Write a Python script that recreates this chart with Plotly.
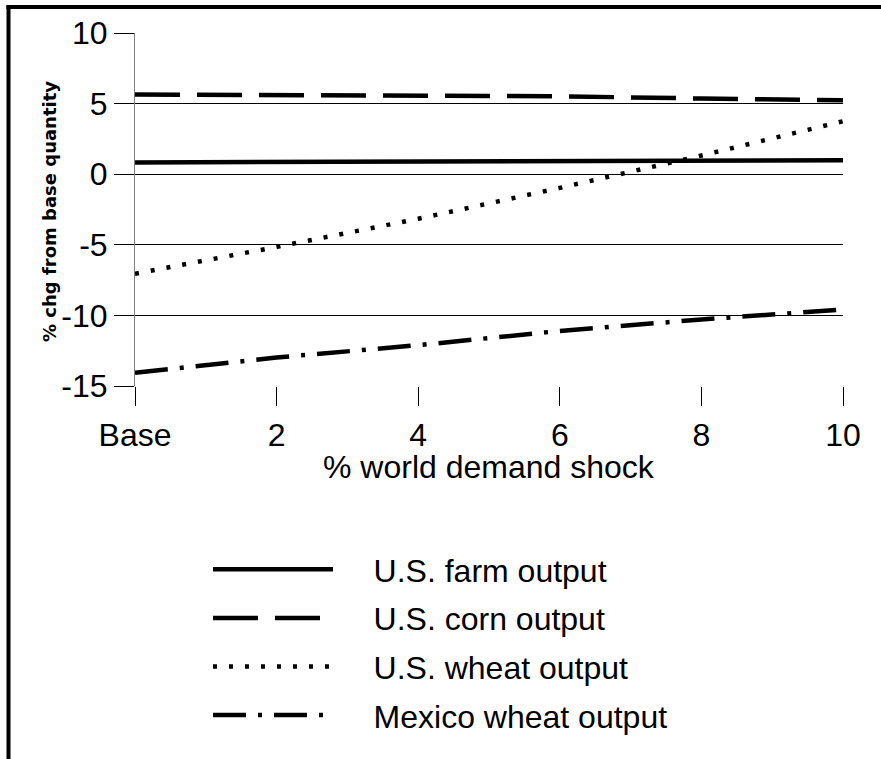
import plotly.graph_objects as go

# ---- data ----
shock = [0, 2, 4, 6, 8, 10]
tick_labels = ["Base", "2", "4", "6", "8", "10"]
y_ticks = [-15, -10, -5, 0, 5, 10]
y_tick_labels = ["-15", "-10", "-5", "0", "5", "10"]
us_farm = [0.83, 0.87, 0.92, 0.92, 0.94, 0.99]
us_corn = [5.64, 5.62, 5.55, 5.52, 5.36, 5.24]
us_wheat = [-7.05, -5.15, -3.16, -0.97, 1.32, 3.75]
mex_wheat = [-14.07, -12.98, -12.11, -11.10, -10.29, -9.58]

W, H = 881, 759
L, R, T, B = 135, 843, 33, 386  # plot area in px

FONT = "Liberation Sans, Arial, sans-serif"
FS = 32
GAP = "\u00a0\u00a0\u00a0\u00a0"

fig = go.Figure()
series = [
    ("U.S. farm output", us_farm, "solid"),
    ("U.S. corn output", us_corn, "45px,17px"),
    ("U.S. wheat output", us_wheat, "4px,12px"),
    ("Mexico wheat output", mex_wheat, "33px,12px,4px,12px"),
]
for i, (name, ys, dash) in enumerate(series):
    fig.add_trace(go.Scatter(
        x=shock, y=ys, name=GAP + name, mode="lines",
        line=dict(color="black", width=4.5, dash=dash),
        legendgroup=f"g{i}",
    ))

def px_x(p):
    return (p - L) / (R - L)

def px_y(p):
    return (B - p) / (B - T)

fig.update_layout(
    width=W, height=H,
    margin=dict(l=L, r=W - R, t=T, b=H - B, autoexpand=False),
    paper_bgcolor="white", plot_bgcolor="white",
    font=dict(family=FONT, size=FS, color="black"),
    showlegend=True,
    legend=dict(
        x=px_x(208), y=px_y(542), xanchor="left", yanchor="top",
        bgcolor="rgba(0,0,0,0)", borderwidth=0,
        font=dict(family=FONT, size=FS, color="black"),
        itemwidth=120, tracegroupgap=4, maxheight=2000,
    ),
    xaxis=dict(
        range=[0, 10], tickvals=shock, ticktext=tick_labels,
        showgrid=False, zeroline=False, showline=False,
        ticks="outside", ticklen=19, tickcolor="black", tickwidth=1,
        ticklabelstandoff=2,
        tickfont=dict(family=FONT, size=FS, color="black"),
        fixedrange=True,
    ),
    yaxis=dict(
        range=[-15, 10], tickvals=y_ticks, ticktext=y_tick_labels,
        showgrid=True, gridcolor="black", gridwidth=1,
        zeroline=True, zerolinecolor="black", zerolinewidth=1,
        showline=True, linecolor="#808080", linewidth=1,
        ticks="outside", ticklen=20, tickcolor="black", tickwidth=1,
        ticklabelstandoff=0,
        tickfont=dict(family=FONT, size=FS, color="black"),
        fixedrange=True,
    ),
    annotations=[
        dict(
            text="<b>% chg from base quantity</b>", textangle=-90,
            xref="paper", yref="paper", x=px_x(50), y=px_y(212),
            xanchor="center", yanchor="middle", showarrow=False,
            font=dict(family="DejaVu Sans, sans-serif", size=18, color="black"),
        ),
        dict(
            text="% world demand shock",
            xref="paper", yref="paper", x=px_x(489), y=px_y(467),
            xanchor="center", yanchor="middle", showarrow=False,
            font=dict(family=FONT, size=FS, color="black"),
        ),
    ],
    shapes=[
        dict(type="rect", xref="paper", yref="paper",
             x0=px_x(6.5), x1=px_x(10.5), y0=px_y(5), y1=px_y(H),
             fillcolor="black", line=dict(width=0)),
        dict(type="rect", xref="paper", yref="paper",
             x0=px_x(6.5), x1=px_x(W), y0=px_y(5), y1=px_y(9),
             fillcolor="black", line=dict(width=0)),
    ],
)

fig.write_html(
    "out.html",
    config={"displayModeBar": False},
    post_script=(
        "var st=document.createElement('style');"
        "st.textContent='html,body{margin:0;padding:0;overflow:hidden;scrollbar-width:none;}"
        "::-webkit-scrollbar{display:none;width:0;height:0;}';"
        "document.head.appendChild(st);"
        "document.documentElement.style.overflow='hidden';"
        "document.body.style.margin='0';document.body.style.overflow='hidden';"
    ),
)
